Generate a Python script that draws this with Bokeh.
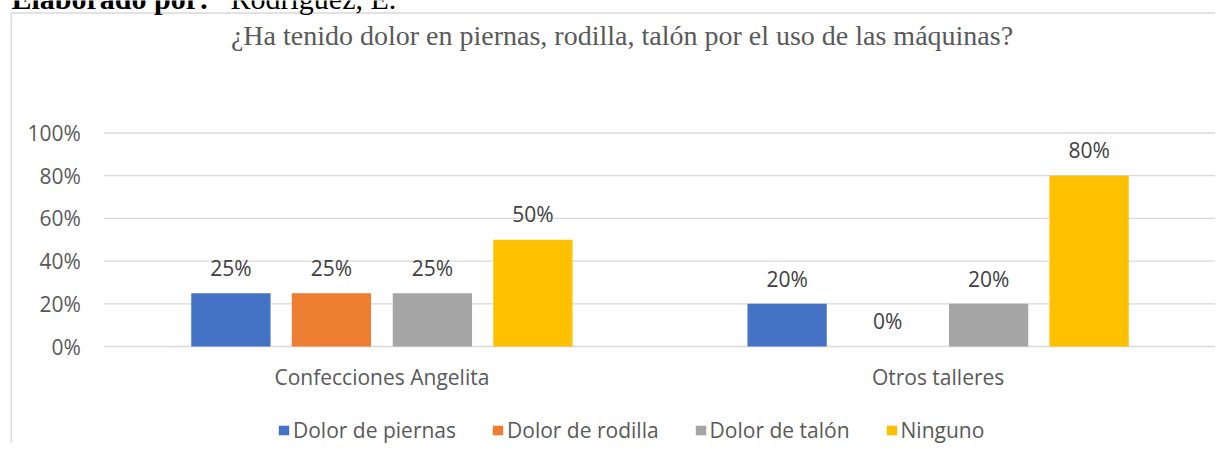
from bokeh.plotting import figure
from bokeh.models import (ColumnDataSource, Range1d, Legend, LegendItem, LabelSet, Label,
                          BoxAnnotation, Grid)
from bokeh.transform import dodge
from bokeh.core.properties import value
from bokeh.embed import file_html
from bokeh.resources import INLINE

# ---------------- data ----------------
categories = ["Confecciones Angelita", "Otros talleres"]
series_names = ["Dolor de piernas", "Dolor de rodilla", "Dolor de talón", "Ninguno"]
dolor_piernas = [0.25, 0.20]
dolor_rodilla = [0.25, 0.00]
dolor_talon = [0.25, 0.20]
ninguno = [0.50, 0.80]
tick_values = [0.0, 0.2, 0.4, 0.6, 0.8, 1.0]
tick_labels = ["0%", "20%", "40%", "60%", "80%", "100%"]
title_text = "¿Ha tenido dolor en piernas, rodilla, talón por el uso de las máquinas?"
caption_bold = "Elaborado por:"
caption_rest = "Rodríguez, E."

# ---------------- layout / styles ----------------
W, H = 1215, 443
PLOT_LEFT, PLOT_RIGHT = 103.3, 1215.7      # pixel extent of the category area
ZERO_Y, FULL_Y = 346.0, 132.5              # pixel rows of 0% and 100% (from top)
U = (PLOT_RIGHT - PLOT_LEFT) / len(categories)
V = ZERO_Y - FULL_Y
x_start = -PLOT_LEFT / U
y_start = -(H - ZERO_Y) / V

colors = ["#4472C4", "#ED7D31", "#A5A5A5", "#FFC000"]
offsets = [-151.0 / U, -50.5 / U, 50.5 / U, 151.0 / U]
bar_width = 79.3 / U
SANS = "Open Sans"
SERIF = "Liberation Serif"
FS = "21px"
TXT = "#595959"
BORDER = "#D9D9D9"

series_values = [dolor_piernas, dolor_rodilla, dolor_talon, ninguno]
data = {"cat": categories, "xc": [i + 0.5 for i in range(len(categories))]}
for i, vals in enumerate(series_values):
    data[f"s{i}"] = vals
    data[f"l{i}"] = [f"{round(v * 100)}%" for v in vals]
source = ColumnDataSource(data)

p = figure(width=W, height=H, x_range=Range1d(x_start, x_start + W / U),
           y_range=Range1d(y_start, y_start + H / V),
           x_axis_location=None, y_axis_location=None,
           output_backend="svg", toolbar_location=None,
           min_border_left=0, min_border_right=0, min_border_top=0, min_border_bottom=0)
p.outline_line_color = None
p.background_fill_color = "white"
p.border_fill_color = "white"
for r in p.center:
    if isinstance(r, Grid):
        r.visible = False

# chart border: left and top edges only (the rest lies outside the picture)
p.add_layout(BoxAnnotation(left=10, right=11.3, top=H - 12, bottom=None,
                           left_units="screen", right_units="screen", top_units="screen",
                           fill_color=BORDER, fill_alpha=1, line_color=None))
p.add_layout(BoxAnnotation(left=10, right=None, top=H - 11.85, bottom=H - 13.15,
                           left_units="screen", top_units="screen", bottom_units="screen",
                           fill_color=BORDER, fill_alpha=1, line_color=None))

# gridlines across the category area
grid_src = ColumnDataSource(dict(y=tick_values, x0=[0] * len(tick_values),
                                 x1=[len(categories)] * len(tick_values), lab=tick_labels))
p.segment(x0="x0", x1="x1", y0="y", y1="y", source=grid_src, line_color=BORDER,
          line_width=1.3)

# y tick labels
p.add_layout(LabelSet(x="x0", y="y", text="lab", source=grid_src, x_offset=-23, y_offset=0,
                      text_align="right", text_baseline="middle", text_font=value(SANS),
                      text_font_size=FS, text_color=TXT))

# category labels
cat_src = ColumnDataSource(dict(x=data["xc"], y=[0] * len(categories), lab=categories))
p.add_layout(LabelSet(x="x", y="y", text="lab", source=cat_src, y_offset=-30.5,
                      text_align="center", text_baseline="middle", text_font=value(SANS),
                      text_font_size=FS, text_color=TXT))

# bars and data labels
items = []
for i, name in enumerate(series_names):
    r = p.vbar(x=dodge("xc", offsets[i]), top=f"s{i}", width=bar_width,
               source=source, fill_color=colors[i], line_color=None)
    items.append(LegendItem(label=name, renderers=[r]))
    p.add_layout(LabelSet(x=dodge("xc", offsets[i]), y=f"s{i}", text=f"l{i}",
                          source=source, text_align="center", text_baseline="middle",
                          y_offset=25.3, text_font=value(SANS), text_font_size=FS,
                          text_color="#404040"))

# legend (row centred at y = 429.5 from the top)
legend = Legend(items=items, orientation="horizontal", location=(277, H - 444.5),
                glyph_width=13, glyph_height=12, label_standoff=3, spacing=35,
                label_height=30, padding=0, margin=0, border_line_color=None,
                background_fill_alpha=0, label_text_font=SANS, label_text_font_size=FS,
                label_text_color=TXT)
p.add_layout(legend)

# title
p.add_layout(Label(x=621.5, y=H - 34.7, x_units="screen", y_units="screen", text=title_text,
                   text_align="center", text_baseline="alphabetic", text_font=SERIF,
                   text_font_size="28px", text_color=TXT))

# caption cut at the top edge
p.add_layout(Label(x=11, y=H + 2.5, x_units="screen", y_units="screen", text=caption_bold,
                   text_align="left", text_baseline="alphabetic", text_font=SERIF,
                   text_font_size="30px", text_font_style="bold", text_color="black"))
p.add_layout(Label(x=230, y=H + 2.5, x_units="screen", y_units="screen", text=caption_rest,
                   text_align="left", text_baseline="alphabetic", text_font=SERIF,
                   text_font_size="30px", text_color="black"))

open("out.html", "w").write(file_html(p, INLINE))
